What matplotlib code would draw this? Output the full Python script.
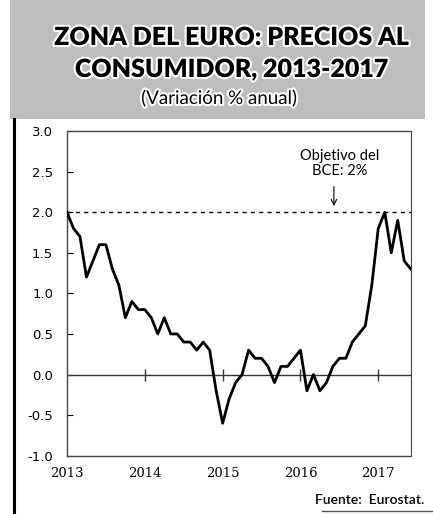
import matplotlib.pyplot as plt
import matplotlib.patheffects as pe
from matplotlib.patches import Rectangle
from matplotlib.lines import Line2D

# HICP zona euro, variacion % anual, enero 2013 - junio 2017
inflacion = [2.0, 1.8, 1.7, 1.2, 1.4, 1.6, 1.6, 1.3, 1.1, 0.7, 0.9, 0.8,
             0.8, 0.7, 0.5, 0.7, 0.5, 0.5, 0.4, 0.4, 0.3, 0.4, 0.3, -0.2,
             -0.6, -0.3, -0.1, 0.0, 0.3, 0.2, 0.2, 0.1, -0.1, 0.1, 0.1, 0.2,
             0.3, -0.2, 0.0, -0.2, -0.1, 0.1, 0.2, 0.2, 0.4, 0.5, 0.6, 1.1,
             1.8, 2.0, 1.5, 1.9, 1.4, 1.3]
anio_inicio = 2013
anios = [2013, 2014, 2015, 2016, 2017]
yticks = [-1.0, -0.5, 0.0, 0.5, 1.0, 1.5, 2.0, 2.5, 3.0]
objetivo = 2.0

fechas = [anio_inicio + i / 12 for i in range(len(inflacion))]

fig = plt.figure(figsize=(4.33, 5.14), dpi=100)

# cabecera gris
fig.patches.append(Rectangle((10 / 433, 1 - 119 / 514), 415 / 433, 119 / 514,
                             transform=fig.transFigure, facecolor='#bdbdbd',
                             edgecolor='none', zorder=0))
halo = [pe.withStroke(linewidth=3, foreground='white')]
fig.text(0.535, 1 - 38 / 514, 'ZONA DEL EURO: PRECIOS AL', ha='center', va='center',
         fontsize=18, fontweight='heavy', family='Lato', path_effects=halo)
fig.text(0.535, 1 - 70 / 514, 'CONSUMIDOR, 2013-2017', ha='center', va='center',
         fontsize=18, fontweight='heavy', family='Lato', path_effects=halo)
fig.text(0.507, 1 - 98 / 514, '(Variación % anual)', ha='center', va='center',
         fontsize=13.5, family='Lato', path_effects=halo)

# marco izquierdo y linea inferior
fig.add_artist(Line2D([14 / 433, 14 / 433], [0, 1 - 119 / 514], color='black',
                      linewidth=2.2, transform=fig.transFigure))
fig.add_artist(Line2D([322 / 433, 1], [3 / 514, 3 / 514], color='#555555',
                      linewidth=1.0, transform=fig.transFigure))

ax = fig.add_axes([67 / 433, 58.3 / 514, 343.7 / 433, 324.7 / 514])
ax.plot(fechas, inflacion, color='black', linewidth=2.0, zorder=3)
ax.axhline(objetivo, color='black', linestyle=(0, (3, 3)), linewidth=1.0)
ax.axhline(0, color='#333333', linewidth=1.0)
ax.plot(anios[1:], [0] * (len(anios) - 1), linestyle='none', marker='|',
        markersize=9, color='#333333', markeredgewidth=1.0)

ax.set_xlim(anio_inicio, anio_inicio + 53 / 12)
ax.set_ylim(-1.0, 3.0)
ax.set_xticks(anios)
ax.set_xticklabels([str(a) for a in anios], family='DejaVu Serif', fontsize=9.5)
ax.set_yticks(yticks)
ax.set_yticklabels(['%.1f' % v for v in yticks], family='DejaVu Sans', fontsize=9.5)
ax.tick_params(axis='x', length=0, pad=8)
ax.tick_params(axis='y', direction='in', length=4, pad=10)
for s in ['left', 'top', 'bottom']:
    ax.spines[s].set_linestyle((0, (1, 1)))
    ax.spines[s].set_color('#444444')
    ax.spines[s].set_linewidth(1.0)
ax.spines['right'].set_color('#444444')

ax.annotate('', xy=(2016.43, 2.04), xytext=(2016.43, 2.35),
            arrowprops=dict(arrowstyle='->', color='black', linewidth=0.8))
ax.text(2016.5, 2.6, 'Objetivo del\nBCE: 2%', ha='center', va='center',
        fontsize=10.5, family='Lato', linespacing=1.1)

fig.text(424 / 433, 1 - 500 / 514, 'Fuente:  Eurostat.', ha='right', va='center',
         fontsize=10, fontweight='semibold', family='Lato')

fig.savefig('out.png', dpi=100)
